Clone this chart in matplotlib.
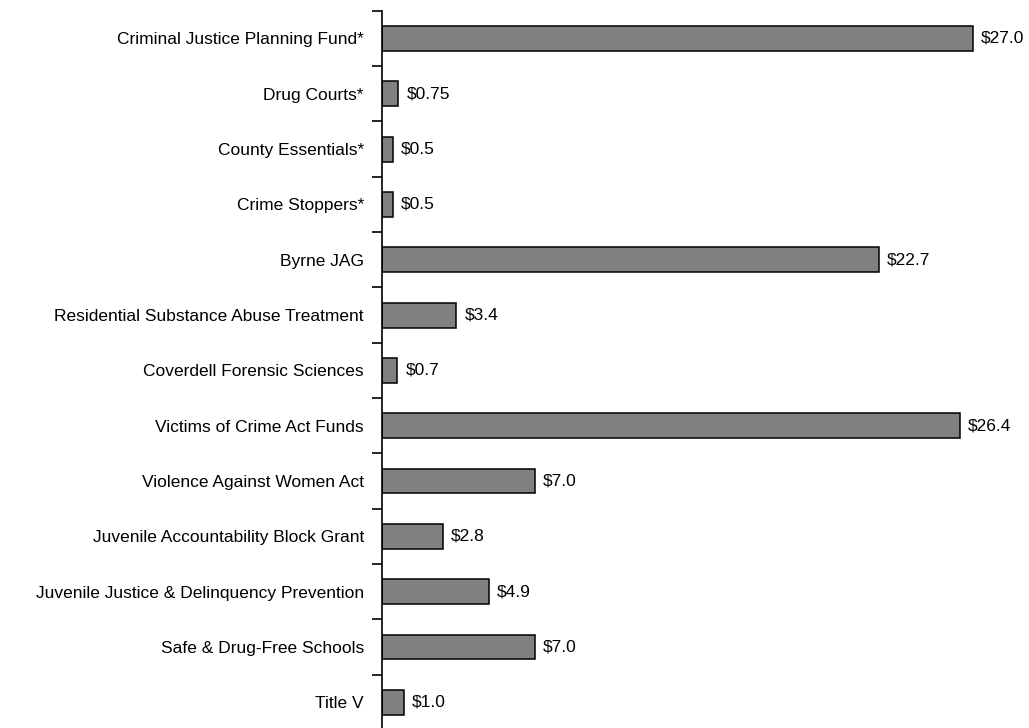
import matplotlib
matplotlib.use("Agg")
import matplotlib.pyplot as plt
import numpy as np

categories = [
    "Criminal Justice Planning Fund*",
    "Drug Courts*",
    "County Essentials*",
    "Crime Stoppers*",
    "Byrne JAG",
    "Residential Substance Abuse Treatment",
    "Coverdell Forensic Sciences",
    "Victims of Crime Act Funds",
    "Violence Against Women Act",
    "Juvenile Accountability Block Grant",
    "Juvenile Justice & Delinquency Prevention",
    "Safe & Drug-Free Schools",
    "Title V",
]
values = [27.0, 0.75, 0.5, 0.5, 22.7, 3.4, 0.7, 26.4, 7.0, 2.8, 4.9, 7.0, 1.0]
value_labels = ["$27.0", "$0.75", "$0.5", "$0.5", "$22.7", "$3.4", "$0.7",
                "$26.4", "$7.0", "$2.8", "$4.9", "$7.0", "$1.0"]

plt.rcParams['font.family'] = ['Liberation Sans', 'DejaVu Sans']

W, H = 1029, 728
fig = plt.figure(figsize=(W / 100, H / 100), dpi=100)
ax_left = 382 / W
ax_top = 10.8
ax_bottom = 730.0
ax = fig.add_axes([ax_left, (H - ax_bottom) / H, 1 - ax_left, (ax_bottom - ax_top) / H])

n = len(categories)
y = np.arange(n)
ax.barh(y, values, height=0.45, color="#808080", edgecolor="black", linewidth=1.1, zorder=2)

px_per_unit = (972.7 - 382) / 27.0
ax.set_xlim(0, (W - 382) / px_per_unit)
ax.set_ylim(n - 0.5, -0.5)

offset = 8 / px_per_unit
for yi, v, lab in zip(y, values, value_labels):
    ax.text(v + offset, yi, lab, va="center", ha="left", fontsize=12.5, color="black")

ax.set_yticks(y)
ax.set_yticklabels(categories, fontsize=12.5)
ax.tick_params(axis="y", which="major", length=0, pad=13)
ax.set_yticks(np.arange(-0.5, n, 1.0), minor=True)
ax.tick_params(axis="y", which="minor", length=7, width=1.2, direction="out")
ax.set_xticks([])

for s in ["top", "right", "bottom"]:
    ax.spines[s].set_visible(False)
ax.spines["left"].set_linewidth(1.2)

fig.savefig("out.png", dpi=100)
